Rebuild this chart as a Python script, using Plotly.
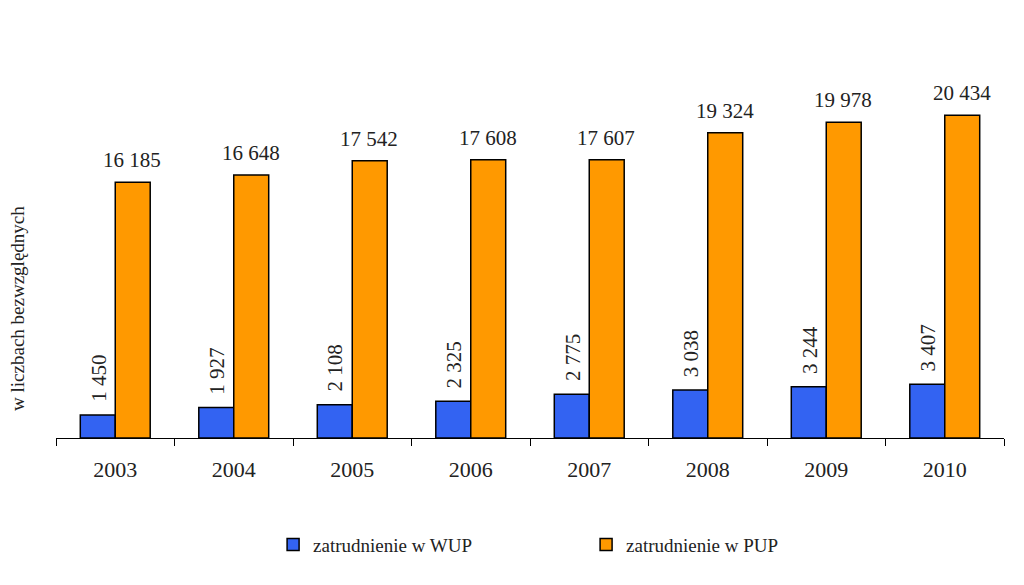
import plotly.graph_objects as go

years = ["2003", "2004", "2005", "2006", "2007", "2008", "2009", "2010"]
wup = [1450, 1927, 2108, 2325, 2775, 3038, 3244, 3407]
pup = [16185, 16648, 17542, 17608, 17607, 19324, 19978, 20434]
series_names = ["zatrudnienie w WUP", "zatrudnienie w PUP"]

def fmt(v):
    return f"{v:,}".replace(",", " ")

FONT = "Liberation Serif, Times New Roman, serif"
LABEL_FONT = dict(family=FONT, size=21, color="#222222")

fig = go.Figure()
fig.add_trace(go.Bar(
    x=years, y=wup, name=series_names[0],
    marker=dict(color="#3363F2", line=dict(color="#000000", width=1.5)),
))
fig.add_trace(go.Bar(
    x=years, y=pup, name=series_names[1],
    marker=dict(color="#FF9900", line=dict(color="#000000", width=1.5)),
))

annotations = []
for i, v in enumerate(wup):
    annotations.append(dict(
        x=i, y=v, xref="x", yref="y", text=fmt(v), showarrow=False,
        textangle=-90, xanchor="center", yanchor="bottom",
        xshift=-17, yshift=11, font=LABEL_FONT,
    ))
for i, v in enumerate(pup):
    annotations.append(dict(
        x=i, y=v, xref="x", yref="y", text=fmt(v), showarrow=False,
        xanchor="center", yanchor="bottom",
        xshift=17, yshift=8, font=LABEL_FONT,
    ))
annotations.append(dict(
    text="w liczbach bezwzględnych", xref="paper", yref="paper",
    x=-0.04, y=0.327, xanchor="center", yanchor="middle",
    showarrow=False, textangle=-90,
    font=dict(family=FONT, size=19, color="#222222"),
))

fig.update_layout(
    width=1016, height=577,
    margin=dict(l=48, r=20, t=35, b=147),
    paper_bgcolor="white", plot_bgcolor="white",
    barmode="group", bargap=0.41, bargroupgap=0,
    font=dict(family=FONT, color="#222222"),
    showlegend=True,
    legend=dict(
        orientation="h", x=0.229, xanchor="left", y=-0.27, yanchor="middle",
        font=dict(family=FONT, size=19, color="#222222"),
        itemwidth=30, entrywidth=268, entrywidthmode="pixels",
        traceorder="normal",
    ),
    xaxis=dict(
        type="category",
        showline=True, linecolor="#000000", linewidth=1,
        ticks="outside", ticklen=7, tickcolor="#000000", tickson="boundaries",
        tickfont=dict(family=FONT, size=22, color="#222222"),
        ticklabelstandoff=12, tickangle=0,
        showgrid=False,
    ),
    yaxis=dict(
        range=[0, 25000], visible=False, showgrid=False,
    ),
    annotations=annotations,
)

fig.write_html("out.html")
